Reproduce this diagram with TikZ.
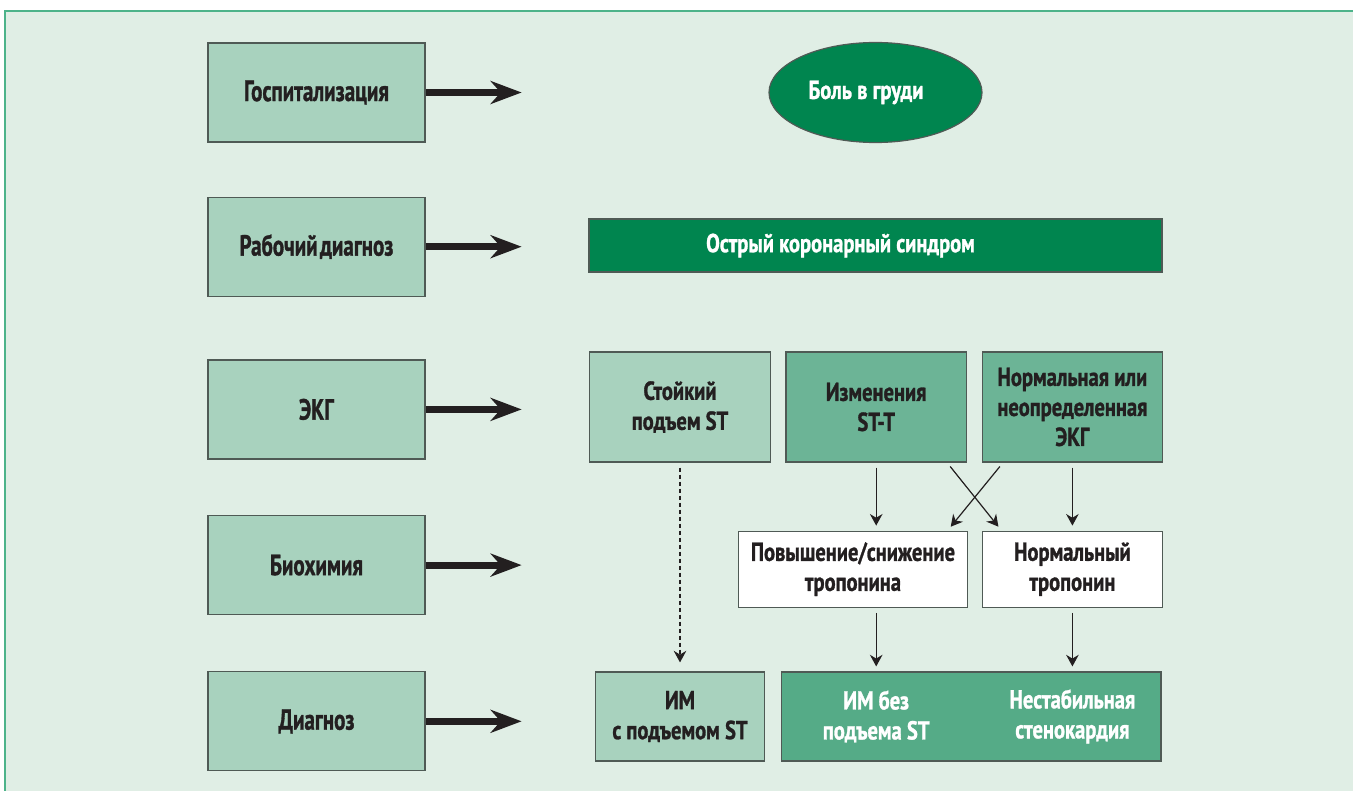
\documentclass[tikz,border=0pt]{standalone}
\usepackage{fontspec}
\setmainfont{PT Sans}
\newfontfamily\stagefont{PT Sans}[FakeStretch=0.72, BoldFeatures={FakeBold=1.1}]
\newfontfamily\findfont{PT Sans}[FakeStretch=0.79, BoldFeatures={FakeBold=1.1}]
\usetikzlibrary{arrows.meta,positioning,shapes.geometric}

\definecolor{fieldbg}{HTML}{E0EEE5}
\definecolor{framegreen}{HTML}{4DB38A}
\definecolor{paleteal}{HTML}{A8D2BE}
\definecolor{midteal}{HTML}{6CB496}
\definecolor{outteal}{HTML}{55AB87}
\definecolor{deepgreen}{HTML}{00854F}
\definecolor{boxline}{HTML}{4F5A55}
\definecolor{inkblack}{HTML}{231F20}

\begin{document}
\begin{tikzpicture}[
  x=0.5pt, y=-0.5pt,
  every node/.style={inner sep=0pt, align=center},
  stagebox/.style={draw=boxline, line width=0.6pt, fill=paleteal, minimum width=108.5pt, minimum height=49.5pt,
    text=inkblack, font=\stagefont\bfseries\fontsize{14.6}{15}\selectfont},
  resbox/.style={draw=boxline, line width=0.6pt, minimum width=90.25pt, minimum height=55pt,
    text=inkblack, font=\findfont\bfseries\fontsize{13}{15}\selectfont},
  darkbar/.style={draw=boxline, line width=0.6pt, fill=deepgreen, minimum width=286.5pt, minimum height=26.5pt},
  wtext/.style={text=white, font=\findfont\bfseries\fontsize{13}{15}\selectfont},
  bigarrow/.style={-{Stealth[length=15.5pt, width=11.5pt]}, line width=3.5pt, draw=inkblack},
  thinarrow/.style={-{Stealth[length=5.8pt, width=6.3pt]}, line width=0.6pt, draw=inkblack,
    shorten <=2.5pt, shorten >=2.5pt}
]
\useasboundingbox (0,0) rectangle (1353,791);
\fill[fieldbg] (5,11) rectangle (1353,791);
\draw[framegreen, line width=1pt] (5,791) -- (5,11) -- (1353,11);

% stages on the left
\node[stagebox] (hosp) at (316.5,92.5) {Госпитализация};
\node[stagebox, below=27pt of hosp] (wdx) {Рабочий\hspace{-1.5pt} диагноз};
\node[stagebox, below=31.25pt of wdx] (ekg) {ЭКГ};
\node[stagebox, below=27.75pt of ekg] (bio) {Биохимия};
\node[stagebox, below=28pt of bio] (diag) {Диагноз};
\foreach \s in {hosp,wdx,ekg,bio,diag}
  \coordinate[right=48pt of \s] (\s E);

% findings on the right
\node[ellipse, draw=boxline, line width=0.6pt, fill=deepgreen, minimum width=106.5pt, minimum height=50pt,
  label={[wtext, xshift=-4.75pt]center:Боль в груди}] (pain) at (875.5,92.5) {};
\node[darkbar, label={[wtext, xshift=-17.5pt]center:Острый коронарный синдром}] (acs) at (875.5,245.5) {};
\node[resbox, fill=paleteal] (ste) at (680,407) {Стойкий\\подъем ST};
\node[resbox, fill=midteal, right=7.25pt of ste] (stt) {Изменения\\ST-T};
\node[resbox, fill=midteal, right=7.25pt of stt] (nekg) {Нормальная или\\неопределенная\\ЭКГ};
\node[resbox, fill=white, minimum height=38pt, below=34pt of nekg] (ntrop) {Нормальный\\тропонин};
\node[resbox, fill=white, minimum height=38pt, minimum width=114.5pt, left=6.75pt of ntrop] (trop) {Повышение/снижение\\тропонина};
\node[resbox, fill=paleteal, minimum width=84.75pt, minimum height=44.5pt] (stemi) at (680,716.5) {ИМ\\с подъемом ST};
\node[resbox, fill=outteal, minimum width=189.65pt, minimum height=44.5pt] (nste) at (971.4,716.5) {};
\node[wtext] (nstemi) at (nste.center -| stt) {ИМ без\\подъема ST};
\node[wtext] (unst) at (nste.center -| nekg) {Нестабильная\\стенокардия};

% connectors
\foreach \s in {hosp,wdx,ekg,bio,diag}
  \draw[bigarrow] (\s.east) -- (\s E);
\draw[thinarrow] (stt.south) -- (stt.south |- trop.north);
\draw[thinarrow] (nekg.south) -- (ntrop.north);
\draw[thinarrow] ([xshift=-10pt]stt.south east) -- ([xshift=10pt]ntrop.north west);
\draw[thinarrow] ([xshift=10.75pt]nekg.south west) -- ([xshift=-10.25pt]trop.north east);
\draw[thinarrow] (stt |- trop.south) -- (stt |- nste.north);
\draw[thinarrow] (ntrop.south) -- (ntrop.south |- nste.north);
\draw[thinarrow, dash pattern=on 2pt off 1.5pt, shorten >=4.5pt] (ste.south) -- (stemi.north);
\end{tikzpicture}
\end{document}
